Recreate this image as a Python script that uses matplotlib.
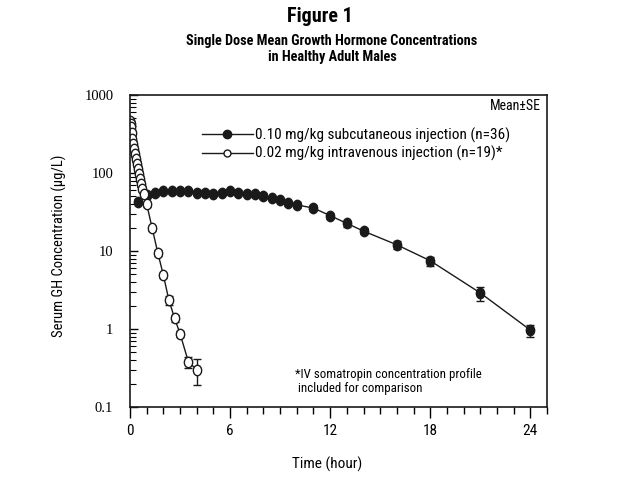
import numpy as np
import matplotlib
matplotlib.use('Agg')
import matplotlib.pyplot as plt
from matplotlib import font_manager
from matplotlib.lines import Line2D
from matplotlib.path import Path
from matplotlib.transforms import Affine2D
from matplotlib.ticker import MultipleLocator, LogLocator, NullFormatter, FixedLocator

# subcutaneous 0.10 mg/kg (filled circles)
sc_hours = [0.5, 1.0, 1.5, 2.0, 2.5, 3.0, 3.5, 4.0, 4.5, 5.0, 5.5, 6.0, 6.5, 7.0,
            7.5, 8.0, 8.5, 9.0, 9.5, 10.0, 11, 12, 13, 14, 16, 18, 21, 24]
sc_conc = [43, 52, 55, 58, 58, 59, 59, 56, 56, 54, 56, 59, 56, 54,
           53, 51, 48, 45, 41, 39, 35.5, 28.4, 22.6, 18.0, 12.0, 7.5, 2.9, 0.97]
sc_se = [3, 4, 4, 4, 4, 4, 4, 4, 4, 4, 4, 4, 4, 4,
         4, 4, 3, 3, 3, 3, 3, 2.5, 2.0, 1.5, 1.4, 1.0, 0.6, 0.17]

# intravenous 0.02 mg/kg (open circles)
iv_hours = [0.0, 0.02, 0.05, 0.08, 0.10, 0.13, 0.17, 0.22, 0.28, 0.33, 0.40, 0.45,
            0.52, 0.58, 0.67, 0.73, 0.83, 1.0, 1.33, 1.67, 2.0, 2.33, 2.67, 3.0, 3.5, 4.0]
iv_conc = [330, 470, 430, 390, 330, 275, 237, 204, 176, 152, 131, 113,
           98, 84, 73, 63, 54, 40, 19.5, 9.4, 4.9, 2.35, 1.38, 0.87, 0.38, 0.30]
iv_se = [30, 40, 40, 35, 30, 25, 20, 18, 15, 12, 10, 9,
         8, 7, 6, 5, 4, 3, 1.5, 0.8, 0.4, 0.3, 0.15, 0.08, 0.06, 0.11]

sc_label = '0.10 mg/kg subcutaneous injection (n=36)'
iv_label = '0.02 mg/kg intravenous injection (n=19)*'

# look for a narrow font, the scan uses a condensed face
family, stretch = 'DejaVu Sans', 'normal'
names = {f.name: f for f in font_manager.fontManager.ttflist}
for cand in ['Liberation Sans Narrow', 'Roboto Condensed', 'Open Sans Condensed',
             'Noto Sans Condensed', 'DejaVu Sans Condensed']:
    if cand in names:
        family = cand
        break
else:
    for f in font_manager.fontManager.ttflist:
        if isinstance(f.stretch, str) and 'condensed' in f.stretch:
            family, stretch = f.name, f.stretch
            break
plt.rcParams['font.family'] = [family, 'DejaVu Sans']
plt.rcParams['font.stretch'] = stretch

ink = '#1a1a1a'
# slightly tall ellipse like the scanned markers
ell = Affine2D().scale(0.8, 1.0).transform_path(Path.unit_circle())

fig = plt.figure(figsize=(6.37, 4.78), dpi=100)
ax = fig.add_axes([0.2041, 0.1485, 0.6546, 0.6528])

ax.errorbar(sc_hours, sc_conc, yerr=sc_se, color=ink, lw=1.0, marker=ell,
            markersize=7.5, mfc=ink, mec=ink, capsize=3, elinewidth=1.0)
ax.errorbar(iv_hours, iv_conc, yerr=iv_se, color=ink, lw=1.0, marker=ell,
            markersize=7.5, mfc='white', mec=ink, mew=1.0, capsize=3, elinewidth=1.0)

ax.set_yscale('log')
ax.set_ylim(0.1, 1000)
ax.set_xlim(0, 25)
ax.xaxis.set_major_locator(FixedLocator([0, 6, 12, 18, 24]))
ax.xaxis.set_minor_locator(MultipleLocator(1))
ax.yaxis.set_minor_locator(LogLocator(base=10, subs=np.arange(2, 10)))
ax.yaxis.set_minor_formatter(NullFormatter())
ax.set_yticks([0.1, 1, 10, 100, 1000])
ax.set_yticklabels(['0.1', '1', '10', '100', '1000'], family='Liberation Serif')

ax.tick_params(axis='x', which='major', direction='out', length=8, width=1, labelsize=11, pad=4)
ax.tick_params(axis='x', which='minor', direction='out', length=5, width=1)
ax.tick_params(axis='y', which='major', direction='in', length=6, width=1, labelsize=10.5, pad=12)
ax.tick_params(axis='y', which='minor', direction='in', length=4, width=0.8)
for s in ax.spines.values():
    s.set_linewidth(1.2)
    s.set_color(ink)

ax.set_xlabel('Time (hour)', fontsize=11)
ax.xaxis.set_label_coords(0.472, -0.16)
ax.set_ylabel('Serum GH Concentration (\u00b5g/L)', fontsize=10.5)
ax.yaxis.set_label_coords(-0.152, 0.516)

handles = [Line2D([], [], color=ink, lw=1.0, marker='o', markersize=6, mfc=ink, mec=ink),
           Line2D([], [], color=ink, lw=1.0, marker='o', markersize=5, mfc='white', mec=ink)]
ax.legend(handles, [sc_label, iv_label], loc='upper left', bbox_to_anchor=(0.155, 0.92),
          frameon=False, fontsize=11, handlelength=3.3, handletextpad=0.15, borderpad=0,
          labelspacing=0.2)

ax.text(0.985, 0.988, 'Mean\u00b1SE', transform=ax.transAxes, ha='right', va='top', fontsize=10)
ax.text(0.396, 0.083, '*IV somatropin concentration profile\n included for comparison',
        transform=ax.transAxes, ha='left', va='center', fontsize=9.3, linespacing=1.1)

fig.text(0.502, 0.965, 'Figure 1', ha='center', va='center', fontsize=14.5, fontweight='bold')
fig.text(0.521, 0.897, 'Single Dose Mean Growth Hormone Concentrations\nin Healthy Adult Males',
         ha='center', va='center', fontsize=10.3, fontweight='bold', linespacing=1.15)

fig.savefig('out.png', dpi=100)
